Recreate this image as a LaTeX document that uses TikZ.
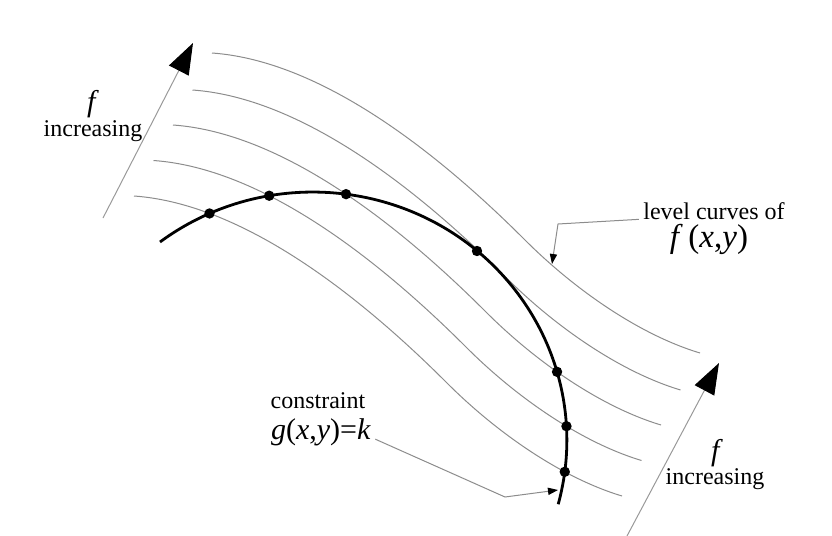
\documentclass[tikz,border=0pt]{standalone}
\usepackage{fontspec}
\setmainfont{Liberation Serif}
\usepackage{tikz}
\usetikzlibrary{arrows.meta,positioning,calc,intersections}
\tikzset{
  levelc/.style  = {draw=black!45,line width=0.5pt},
  constr/.style  = {draw=black,line width=1.4pt},
  tpt/.style     = {circle,fill=black,inner sep=0pt,minimum size=5.2pt},
  leader/.style  = {draw=black!45,line width=0.5pt,
                    -{Triangle[length=5pt,width=3.6pt,black]}},
  incr/.style    = {draw=black!40,line width=0.5pt,
                    -{Triangle[length=15.5pt,width=11pt,black]}},
  lbl/.style     = {font=\fontsize{12}{14}\selectfont,inner sep=2pt},
  mlbl/.style    = {font=\fontsize{15}{17}\selectfont,inner sep=2pt},
}

\begin{document}
\begin{tikzpicture}[x=0.5pt,y=-0.5pt]
  \useasboundingbox (0,0) rectangle (832,536);

  % level curves of f, one shape shifted down the slope
  \foreach \dx/\dy [count=\i] in {0/0,-19.5/37,-39/72,-58.5/107.5,-78/143}
    \draw[levelc,name path global=lc\i,shift={(\dx,\dy)}]
      (212,53) .. controls (310,60) and (420,135) .. (525,240)
      .. controls (575,290) and (640,335) .. (700,353);

  % constraint g(x,y)=k
  \draw[constr,name path=con] (160,242)
        arc[start angle=-127,end angle=15,x radius=254,y radius=248];

  % points where the level curves meet the constraint
  \path[name intersections={of=con and lc3,sort by=con,by={c3a,c3b}}];
  \path[name intersections={of=con and lc4,sort by=con,by={c4a,c4b}}];
  \path[name intersections={of=con and lc5,sort by=con,by={c5a,c5b}}];
  \node[tpt] (t1) at (c5a) {};
  \node[tpt] (t2) at (c4a) {};
  \node[tpt] (t3) at (c3a) {};
  \node[tpt] (t4) at (477,251) {};
  \node[tpt] (t5) at (c3b) {};
  \node[tpt] (t6) at (c4b) {};
  \node[tpt] (t7) at (c5b) {};

  % f increasing, both sides
  \coordinate (lft0) at (103,218);
  \coordinate (lft1) at (193,43);
  \draw[incr] (lft0) -- (lft1);
  \node[mlbl] (lf)    at (93,104) {\textit{f}};
  \node[lbl]  (lincr) at (93,131) {increasing};

  \coordinate (rgt0) at (627,536);
  \coordinate (rgt1) at (719,363);
  \draw[incr] (rgt0) -- (rgt1);
  \node[mlbl] (rf)    at (717,453) {\textit{f}};
  \node[lbl]  (rincr) at (715,479) {increasing};

  % labels with leaders
  \node[lbl] (lvl) at (714,211) {level curves of};
  \node[mlbl,font=\fontsize{16.5}{18}\selectfont] (fxy) at (709,239)
        {\textit{f}\,(\textit{x},\textit{y})};
  \coordinate (lvlbend) at (558,224);
  \coordinate (lvltip)  at (552,264);
  \draw[leader] (lvl.base west) -- (lvlbend) -- (lvltip);

  \node[lbl]  (cns) at (318,401) {constraint};
  \node[mlbl] (gk)  at (321,432) {\textit{g}(\textit{x},\textit{y})=\textit{k}};
  \coordinate (gkbend) at (505,497);
  \coordinate (gktip)  at (558,490);
  \draw[leader] (gk.base east) -- (gkbend) -- (gktip);
\end{tikzpicture}
\end{document}
